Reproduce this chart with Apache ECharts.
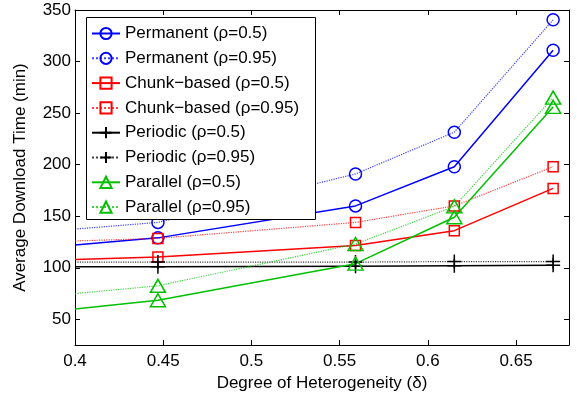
<!DOCTYPE html>
<html>
<head>
<meta charset="utf-8">
<script src="https://cdn.jsdelivr.net/npm/echarts@6/dist/echarts.min.js"></script>
<style>
  html, body { margin: 0; padding: 0; background: #fff; }
  #chart { width: 577px; height: 397px; }
</style>
</head>
<body>
<div id="chart"></div>
<script>
// x positions (first one sits on the left edge, no marker)
const xPts = [0.4, 0.447, 0.559, 0.615, 0.671];

const permanent05 = [122, 129, 160, 198, 311];
const permanent095 = [137.5, 144, 191, 231.5, 340.5];
const chunk05 = [108, 110.5, 121.5, 136, 177];
const chunk095 = [126, 128.5, 144, 160, 198];
const periodic05 = [101, 101, 101.5, 102, 102.5];
const periodic095 = [105.5, 105.5, 105.5, 106, 106];
const parallel05 = [60, 68.5, 104, 149, 256];
const parallel095 = [75, 82.5, 123, 159.5, 265];

const xTicks = [0.4, 0.45, 0.5, 0.55, 0.6, 0.65];
const yTicks = [50, 100, 150, 200, 250, 300, 350];

const BLUE = '#0000ff', RED = '#ff0000', BLACK = '#000000', GREEN = '#00c000';
const plus = 'path://M0,5L10,5M5,0L5,10';

function mkSeries(name, vals, color, symbol, size, dotted) {
  return {
    name: name,
    type: 'line',
    data: vals.map((v, i) => i === 0
      ? { value: [xPts[i], v], symbol: 'none' }
      : { value: [xPts[i], v] }),
    symbol: symbol,
    symbolSize: size,
    showAllSymbol: true,
    clip: true,
    lineStyle: { color: color, width: dotted ? 1.2 : 1.5, type: dotted ? 'dotted' : 'solid', opacity: dotted ? 0.75 : 1 },
    itemStyle: { color: 'transparent', borderColor: color, borderWidth: 1.5 },
    emphasis: { disabled: true }
  };
}

const series = [
  mkSeries('Permanent (ρ=0.5)', permanent05, BLUE, 'circle', 12, false),
  mkSeries('Permanent (ρ=0.95)', permanent095, BLUE, 'circle', 12, true),
  mkSeries('Chunk−based (ρ=0.5)', chunk05, RED, 'rect', 10, false),
  mkSeries('Chunk−based (ρ=0.95)', chunk095, RED, 'rect', 10, true),
  mkSeries('Periodic (ρ=0.5)', periodic05, BLACK, plus, 14, false),
  mkSeries('Periodic (ρ=0.95)', periodic095, BLACK, plus, 14, true),
  mkSeries('Parallel (ρ=0.5)', parallel05, GREEN, 'triangle', [15, 13], false),
  mkSeries('Parallel (ρ=0.95)', parallel095, GREEN, 'triangle', [15, 13], true)
];

const font = 'Liberation Sans, Arial, sans-serif';

const chart = echarts.init(document.getElementById('chart'));
chart.setOption({
  animation: false,
  textStyle: { fontFamily: font },
  grid: { left: 75, right: 8, top: 10, bottom: 47 },
  xAxis: [{
    type: 'value', min: 0.4, max: 0.68,
    name: 'Degree of Heterogeneity (δ)', nameLocation: 'middle', nameGap: 24,
    nameTextStyle: { fontSize: 17, color: '#000', fontFamily: font },
    axisLine: { lineStyle: { color: '#000', width: 1 } },
    axisTick: { inside: true, length: 5, customValues: xTicks, lineStyle: { color: '#000' } },
    axisLabel: { customValues: xTicks, fontSize: 17, color: '#000', margin: 8, formatter: v => String(+v.toFixed(2)) },
    splitLine: { show: false }
  }, {
    type: 'value', min: 0.4, max: 0.68, position: 'top',
    axisLine: { lineStyle: { color: '#000', width: 1 } },
    axisTick: { inside: true, length: 5, customValues: xTicks, lineStyle: { color: '#000' } },
    axisLabel: { show: false }, splitLine: { show: false }
  }],
  yAxis: [{
    type: 'value', min: 25, max: 350,
    name: 'Average Download Time (min)', nameLocation: 'middle', nameGap: 46,
    nameTextStyle: { fontSize: 17, color: '#000', fontFamily: font },
    axisLine: { show: true, lineStyle: { color: '#000', width: 1 } },
    axisTick: { show: true, inside: true, length: 5, customValues: yTicks, lineStyle: { color: '#000' } },
    axisLabel: { customValues: yTicks, fontSize: 17, color: '#000', margin: 4 },
    splitLine: { show: false }
  }, {
    type: 'value', min: 25, max: 350, position: 'right',
    axisLine: { show: true, lineStyle: { color: '#000', width: 1 } },
    axisTick: { show: true, inside: true, length: 5, customValues: yTicks, lineStyle: { color: '#000' } },
    axisLabel: { show: false }, splitLine: { show: false }
  }],
  graphic: [{
    type: 'rect', z: 5,
    shape: { x: 86.5, y: 17.5, width: 229, height: 202 },
    style: { fill: '#fff', stroke: '#000', lineWidth: 1 }
  }],
  legend: {
    orient: 'vertical', left: 86, top: 17, z: 10,
    padding: [8, 6, 6, 5],
    itemWidth: 28, itemHeight: 14, itemGap: 7.8,
    textStyle: { fontSize: 17, color: '#000', lineHeight: 16, fontFamily: font },
    selectedMode: false
  },
  series: series
});
</script>
</body>
</html>
